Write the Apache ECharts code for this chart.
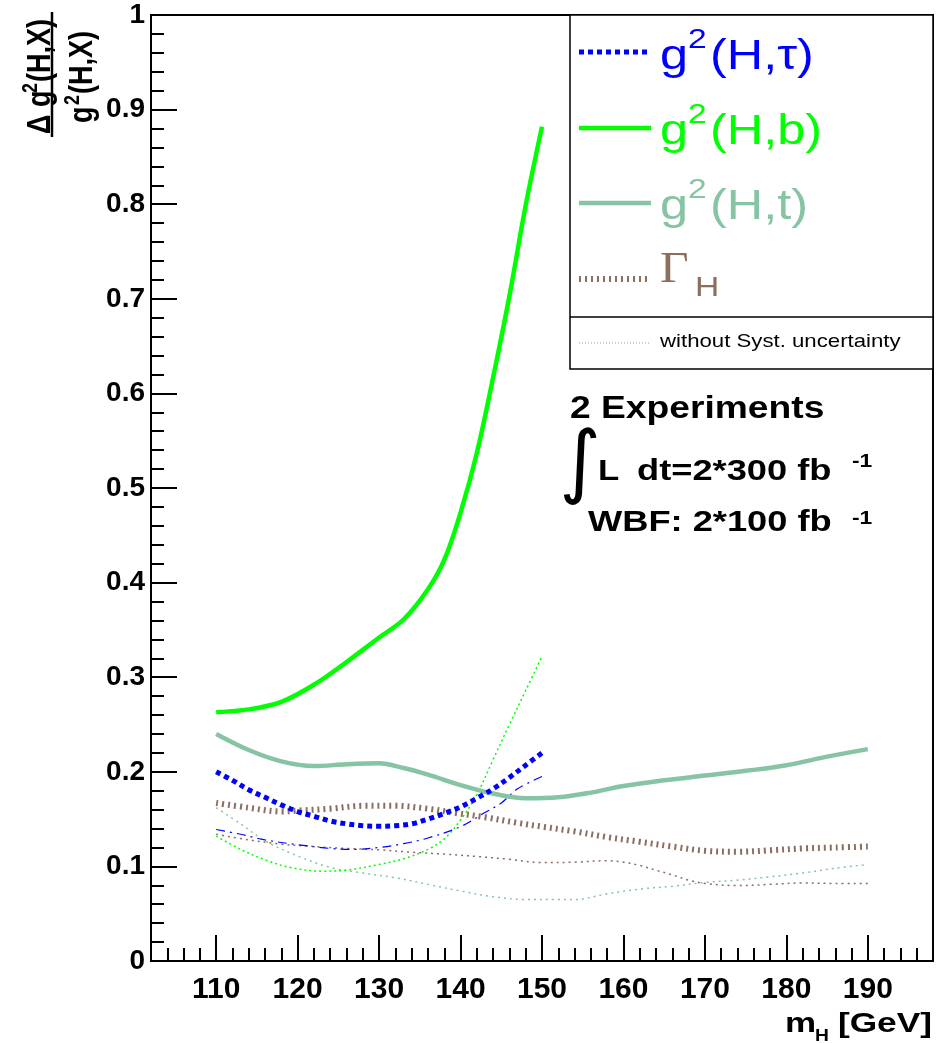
<!DOCTYPE html>
<html>
<head>
<meta charset="utf-8">
<script src="https://cdn.jsdelivr.net/npm/echarts@6/dist/echarts.min.js"></script>
<style>html,body{margin:0;padding:0;background:#fff;}#c{width:942px;height:1043px;}</style>
</head>
<body>
<div id="c"></div>
<script>
// ---- axis ticks ----
const xMajorTicks = [110, 120, 130, 140, 150, 160, 170, 180, 190];
const yTickLabels = ['0', '0.1', '0.2', '0.3', '0.4', '0.5', '0.6', '0.7', '0.8', '0.9', '1'];

// ---- g2(H,tau) with syst ----
const tauX = [110, 112, 114, 116, 118, 120, 122, 124, 126, 128, 130, 132, 134, 136, 138, 140, 142, 144, 146, 148, 150];
const tauY = [0.200, 0.191, 0.181, 0.173, 0.165, 0.158, 0.153, 0.148, 0.145, 0.143, 0.1425, 0.143, 0.145, 0.150, 0.156, 0.163, 0.172, 0.182, 0.194, 0.207, 0.220];
// ---- g2(H,b) with syst ----
const bX = [110, 114, 118, 122, 126, 130, 133, 136, 138, 140, 142, 144, 146, 148, 150];
const bY = [0.263, 0.266, 0.274, 0.292, 0.316, 0.342, 0.361, 0.393, 0.424, 0.474, 0.537, 0.617, 0.703, 0.799, 0.882];
// ---- g2(H,t) with syst ----
const tX = [110, 114, 118, 122, 126, 130, 133, 136, 140, 144, 148, 152, 156, 160, 165, 170, 175, 180, 185, 190];
const tY = [0.240, 0.223, 0.211, 0.206, 0.208, 0.209, 0.204, 0.197, 0.186, 0.177, 0.172, 0.173, 0.178, 0.185, 0.191, 0.196, 0.201, 0.207, 0.216, 0.224];
// ---- Gamma_H with syst ----
const gX = [110, 114, 118, 120, 124, 128, 132, 136, 139, 143, 147, 150, 154, 158, 162, 166, 170, 174, 178, 182, 186, 190];
const gY = [0.167, 0.162, 0.158, 0.159, 0.161, 0.164, 0.164, 0.161, 0.157, 0.152, 0.146, 0.142, 0.137, 0.131, 0.126, 0.121, 0.1165, 0.1155, 0.117, 0.119, 0.120, 0.121];

// ---- without systematic uncertainty ----
const tauNsX = [110, 113, 116, 120, 124, 127, 130, 133, 136, 140, 143, 145, 147, 150];
const tauNsY = [0.139, 0.134, 0.128, 0.123, 0.119, 0.118, 0.120, 0.124, 0.130, 0.142, 0.157, 0.167, 0.182, 0.195];
const bNsX = [110, 113, 116, 119, 123, 126, 130, 133, 136, 138, 140, 142, 144, 146, 148, 150];
const bNsY = [0.132, 0.118, 0.107, 0.099, 0.095, 0.096, 0.102, 0.108, 0.118, 0.129, 0.149, 0.176, 0.213, 0.250, 0.286, 0.322];
const tNsX = [110, 113, 116, 120, 124, 128, 132, 136, 140, 144, 148, 152, 154, 158, 162, 166, 170, 174, 178, 182, 186, 190];
const tNsY = [0.162, 0.145, 0.127, 0.111, 0.099, 0.093, 0.088, 0.081, 0.074, 0.068, 0.065, 0.065, 0.065, 0.071, 0.076, 0.079, 0.083, 0.0855, 0.089, 0.093, 0.098, 0.102];
const gNsX = [110, 114, 118, 122, 126, 130, 134, 138, 142, 146, 150, 154, 158, 160, 162, 164, 166, 168, 170, 174, 178, 182, 186, 190];
const gNsY = [0.134, 0.128, 0.1235, 0.121, 0.119, 0.1175, 0.115, 0.113, 0.1105, 0.1075, 0.104, 0.1045, 0.106, 0.1045, 0.101, 0.096, 0.091, 0.0855, 0.082, 0.0797, 0.081, 0.0825, 0.082, 0.082];

const BLUE = '#0000ff', GREEN = '#00ff00', TEAL = '#86c4a3', BROWN = '#8c6e5f';

function pairs(xs, ys) { return xs.map((x, i) => [x, ys[i]]); }
function lineSeries(name, xs, ys, color, width, dash, z) {
  return {
    name, type: 'line', data: pairs(xs, ys), smooth: 0.35, showSymbol: false, symbol: 'none',
    xAxisIndex: 0, yAxisIndex: 0, z: z, silent: true,
    lineStyle: { color, width, type: dash, cap: 'butt' }
  };
}
function T(x, cy, text, size, color, o) {
  o = o || {};
  return {
    type: 'text', x: x, y: cy, scaleX: o.sx || 1, scaleY: o.sy || 1, rotation: o.rot || 0, z: 100,
    style: {
      text: text, fill: color,
      font: (o.weight || 'normal') + ' ' + size + 'px ' + (o.family || '"Liberation Sans", Arial, sans-serif'),
      textAlign: o.align || 'left', textVerticalAlign: 'middle'
    }
  };
}
function L(x1, y1, x2, y2, color, width, dash) {
  return { type: 'line', z: 100, shape: { x1, y1, x2, y2 }, style: { stroke: color, lineWidth: width, lineDash: dash || null } };
}
const R = Math.PI / 2;

const chart = echarts.init(document.getElementById('c'), null, { renderer: 'canvas' });
const axisFont = '"Liberation Sans", Arial, sans-serif';
chart.setOption({
  animation: false,
  backgroundColor: '#fff',
  grid: { left: 151, right: 9, top: 15, bottom: 82, show: true, borderColor: '#000', borderWidth: 2, containLabel: false },
  xAxis: [
    {
      type: 'value', min: 102, max: 198, position: 'bottom',
      axisLine: { show: true, lineStyle: { color: '#000', width: 2 } },
      axisTick: { show: true, inside: true, length: 26, customValues: xMajorTicks, lineStyle: { color: '#000', width: 2 } },
      axisLabel: { show: true, customValues: xMajorTicks, margin: 14, color: '#000', fontSize: 30, fontWeight: 'bold', fontFamily: axisFont },
      splitLine: { show: false }
    },
    {
      type: 'value', min: 102, max: 198, interval: 2, position: 'bottom', gridIndex: 0,
      axisLine: { show: false },
      axisTick: { show: true, inside: true, length: 13, lineStyle: { color: '#000', width: 2 } },
      axisLabel: { show: false },
      splitLine: { show: false }
    }
  ],
  yAxis: [{
    type: 'value', min: 0, max: 1, interval: 0.1,
    axisLine: { show: true, lineStyle: { color: '#000', width: 2 } },
    axisTick: { show: true, inside: true, length: 26, lineStyle: { color: '#000', width: 2 } },
    minorTick: { show: true, splitNumber: 5, length: 13, lineStyle: { color: '#000', width: 2 } },
    axisLabel: {
      margin: 6, color: '#000', fontSize: 28, fontWeight: 'bold', fontFamily: axisFont,
      formatter: v => yTickLabels[Math.round(v * 10)]
    },
    splitLine: { show: false }, minorSplitLine: { show: false }
  }],
  series: [
    lineSeries('tNs', tNsX, tNsY, TEAL, 1.5, [2, 4], 2),
    lineSeries('gNs', gNsX, gNsY, BROWN, 1.5, [2, 4], 2),
    lineSeries('bNs', bNsX, bNsY, GREEN, 1.5, [2, 3], 2),
    lineSeries('tauNs', tauNsX, tauNsY, BLUE, 1.2, [9, 5, 2, 5], 2),
    lineSeries('Gamma_H', gX, gY, BROWN, 6, [2, 4], 3),
    lineSeries('g2(H,t)', tX, tY, TEAL, 4.5, 'solid', 4),
    lineSeries('g2(H,b)', bX, bY, GREEN, 4.5, 'solid', 4),
    lineSeries('g2(H,tau)', tauX, tauY, BLUE, 5, [5, 4], 5)
  ],
  graphic: [
    // legend box
    { type: 'rect', z: 90, shape: { x: 570, y: 15, width: 363, height: 354 }, style: { fill: '#fff', stroke: '#000', lineWidth: 1.5 } },
    L(570, 317, 933, 317, '#000', 1.5),
    L(579, 52, 651, 52, BLUE, 5, [5, 4]),
    T(660, 57, 'g', 42, BLUE, { sx: 1.2 }),
    T(688, 40, '2', 28, BLUE, { sx: 1.2 }),
    T(710, 57, '(H,τ)', 42, BLUE, { sx: 1.2 }),
    L(579, 128, 651, 128, GREEN, 4.5),
    T(660, 132, 'g', 42, GREEN, { sx: 1.2 }),
    T(688, 115, '2', 28, GREEN, { sx: 1.2 }),
    T(710, 132, '(H,b)', 42, GREEN, { sx: 1.2 }),
    L(579, 203, 651, 203, TEAL, 4.5),
    T(660, 207, 'g', 42, TEAL, { sx: 1.2 }),
    T(688, 190, '2', 28, TEAL, { sx: 1.2 }),
    T(710, 207, '(H,t)', 42, TEAL, { sx: 1.2 }),
    L(579, 279, 651, 279, BROWN, 6, [2, 4]),
    T(660, 270, 'Γ', 45, BROWN, { sx: 1.1, family: '"Liberation Serif", "Times New Roman", serif' }),
    T(695, 288, 'H', 28, BROWN, { sx: 1.2 }),
    L(579, 343, 651, 343, '#9a9a9a', 1, [1, 2]),
    T(660, 342, 'without Syst. uncertainty', 18.5, '#000', { sx: 1.2 }),
    // annotation
    T(570, 409, '2 Experiments', 31, '#000', { sx: 1.2, weight: 'bold' }),
    T(580, 467, '∫', 80, '#000', { align: 'center', family: '"DejaVu Sans", sans-serif' }),
    T(598, 472, 'L', 29, '#000', { sx: 1.2, weight: 'bold' }),
    T(637, 472, 'dt=2*300 fb', 29, '#000', { sx: 1.25, weight: 'bold' }),
    T(852, 461.5, '-1', 19, '#000', { sx: 1.2, weight: 'bold' }),
    T(588, 523, 'WBF: 2*100 fb', 29, '#000', { sx: 1.25, weight: 'bold' }),
    T(852, 518.5, '-1', 19, '#000', { sx: 1.2, weight: 'bold' }),
    // x-axis title
    T(785, 1024, 'm', 28, '#000', { sx: 1.25, weight: 'bold' }),
    T(815, 1037, 'H', 16, '#000', { sx: 1.2, weight: 'bold' }),
    T(932, 1024, '[GeV]', 28, '#000', { sx: 1.26, weight: 'bold', align: 'right' }),
    // y-axis title (rotated fraction): numerator
    T(41, 134, 'Δ g', 27, '#000', { rot: R, sy: 1.2, weight: 'bold' }),
    T(31, 93, '2', 18, '#000', { rot: R, sy: 1.2, weight: 'bold' }),
    T(41, 82, '(H,X)', 27, '#000', { rot: R, sy: 1.2, weight: 'bold' }),
    L(52, 12, 52, 137, '#000', 2.5),
    // denominator
    T(83, 123, 'g', 27, '#000', { rot: R, sy: 1.2, weight: 'bold' }),
    T(73, 105, '2', 18, '#000', { rot: R, sy: 1.2, weight: 'bold' }),
    T(83, 94, '(H,X)', 27, '#000', { rot: R, sy: 1.2, weight: 'bold' })
  ]
});
</script>
</body>
</html>
